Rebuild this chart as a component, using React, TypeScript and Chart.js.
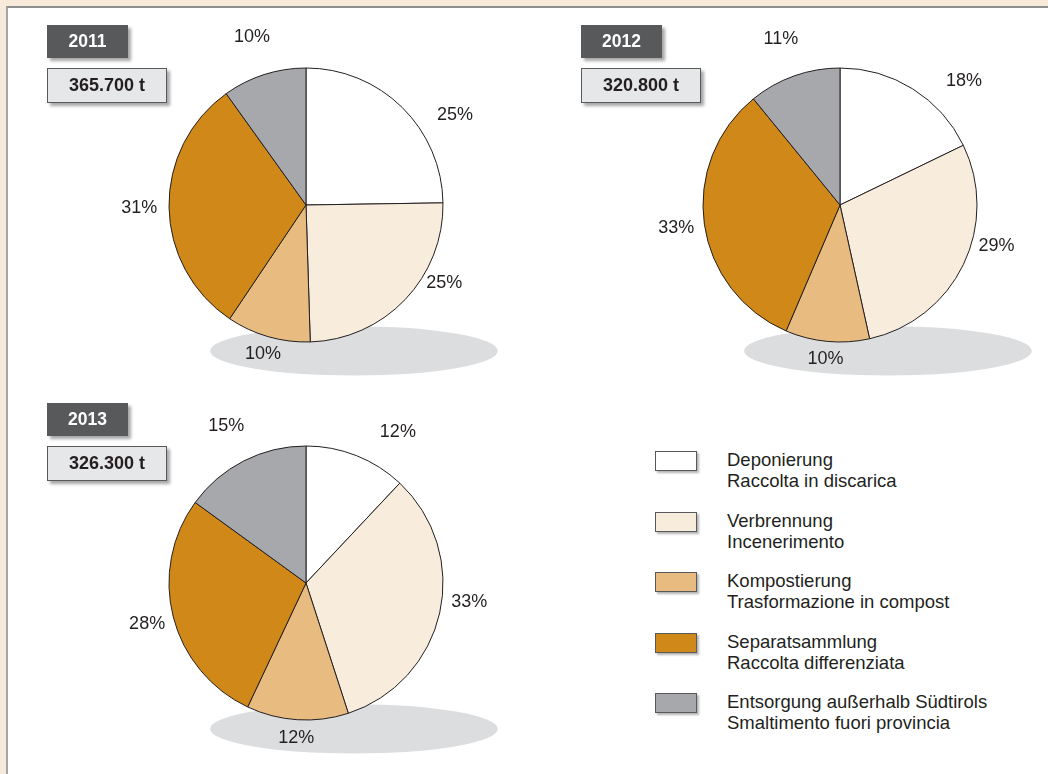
import React, { useEffect, useRef } from "react";
import { Chart, registerables } from "chart.js";

Chart.register(...registerables);

const categoriesDe = [
  "Deponierung",
  "Verbrennung",
  "Kompostierung",
  "Separatsammlung",
  "Entsorgung außerhalb Südtirols",
];
const categoriesIt = [
  "Raccolta in discarica",
  "Incenerimento",
  "Trasformazione in compost",
  "Raccolta differenziata",
  "Smaltimento fuori provincia",
];
const sliceColors = ["#ffffff", "#f8ecdc", "#e8bb80", "#d08818", "#a7a8ab"];

const years = ["2011", "2012", "2013"];
const tonnage = ["365.700 t", "320.800 t", "326.300 t"];
const values2011 = [25, 25, 10, 31, 10];
const values2012 = [18, 29, 10, 33, 11];
const values2013 = [12, 33, 12, 28, 15];
const seriesByYear = [values2011, values2012, values2013];

const FONT = '"Liberation Sans", Arial, Helvetica, sans-serif';
const TEXT = "#231f20";

const shadowPlugin = {
  id: "groundShadow",
  beforeDatasetsDraw(chart: any) {
    const meta = chart.getDatasetMeta(0);
    const arc = meta.data[0];
    if (!arc) return;
    const { x, y, outerRadius } = arc.getProps(["x", "y", "outerRadius"], true);
    const ctx = chart.ctx;
    ctx.save();
    ctx.fillStyle = "#dcdddf";
    ctx.beginPath();
    ctx.ellipse(x + outerRadius * 0.35, y + outerRadius * 1.065, outerRadius * 1.05, outerRadius * 0.18, 0, 0, Math.PI * 2);
    ctx.fill();
    ctx.restore();
  },
};

const labelPlugin = {
  id: "pctLabels",
  afterDatasetsDraw(chart: any) {
    const meta = chart.getDatasetMeta(0);
    const data = chart.data.datasets[0].data as number[];
    const ctx = chart.ctx;
    ctx.save();
    ctx.font = `18px ${FONT}`;
    ctx.fillStyle = TEXT;
    ctx.textAlign = "center";
    ctx.textBaseline = "middle";
    meta.data.forEach((arc: any, i: number) => {
      const { x, y, startAngle, endAngle, outerRadius } = arc.getProps(
        ["x", "y", "startAngle", "endAngle", "outerRadius"],
        true
      );
      const mid = (startAngle + endAngle) / 2;
      const s = Math.sin(mid);
      const d = outerRadius + 30 + 10 * Math.max(0, -s) - 12 * Math.max(0, s);
      const a = Math.cos(mid) > 0 ? mid - 0.25 * Math.sin(2 * mid) : mid;
      ctx.fillText(`${data[i]}%`, x + Math.cos(a) * d, y + Math.sin(a) * d);
    });
    ctx.restore();
  },
};

function PieChart({ values, left, top }: { values: number[]; left: number; top: number }) {
  const ref = useRef<HTMLCanvasElement | null>(null);
  useEffect(() => {
    if (!ref.current) return;
    const chart = new Chart(ref.current, {
      type: "pie",
      data: {
        labels: categoriesDe,
        datasets: [
          {
            data: values,
            backgroundColor: sliceColors,
            borderColor: "#231f20",
            borderWidth: 1,
            radius: 137,
          } as any,
        ],
      },
      options: {
        responsive: false,
        animation: false,
        devicePixelRatio: 1,
        layout: { padding: 0 },
        plugins: { legend: { display: false }, tooltip: { enabled: false } },
      },
      plugins: [shadowPlugin, labelPlugin],
    });
    return () => chart.destroy();
  }, [values]);
  return (
    <canvas
      ref={ref}
      width={400}
      height={400}
      style={{ position: "absolute", left, top, width: 400, height: 400, zIndex: 1 }}
    />
  );
}

function YearBoxes({ year, tons, left, top }: { year: string; tons: string; left: number; top: number }) {
  return (
    <>
      <div
        style={{
          position: "absolute",
          left,
          top,
          width: 81,
          height: 33,
          background: "#58595b",
          color: "#ffffff",
          font: `bold 17.5px ${FONT}`,
          display: "flex",
          alignItems: "center",
          justifyContent: "center",
          boxShadow: "3px 3px 3px rgba(0,0,0,0.35)",
          zIndex: 2,
        }}
      >
        {year}
      </div>
      <div
        style={{
          position: "absolute",
          left,
          top: top + 43,
          width: 118,
          height: 33,
          boxSizing: "content-box",
          background: "#e6e7e8",
          border: "1.5px solid #58595b",
          color: TEXT,
          font: `bold 18px ${FONT}`,
          display: "flex",
          alignItems: "center",
          justifyContent: "center",
          boxShadow: "3px 3px 3px rgba(0,0,0,0.35)",
          zIndex: 2,
        }}
      >
        {tons}
      </div>
    </>
  );
}

export default function App() {
  useEffect(() => {
    document.body.style.margin = "0";
  }, []);
  const pieSpots = [
    { left: 106, top: 5 },
    { left: 640, top: 5 },
    { left: 106, top: 383 },
  ];
  const boxSpots = [
    { left: 47, top: 25 },
    { left: 581, top: 25 },
    { left: 47, top: 403 },
  ];
  return (
    <div
      style={{
        position: "relative",
        width: 1048,
        height: 774,
        overflow: "hidden",
        background: "#f7eadb",
      }}
    >
      <div
        style={{
          position: "absolute",
          left: 6,
          top: 6,
          right: 0,
          bottom: 0,
          background: "#ffffff",
          borderTop: "2px solid #8f8f8f",
          borderLeft: "2px solid #a5a5a5",
        }}
      />
      {seriesByYear.map((vals, i) => (
        <PieChart key={years[i]} values={vals} left={pieSpots[i].left} top={pieSpots[i].top} />
      ))}
      {years.map((y, i) => (
        <YearBoxes key={y} year={y} tons={tonnage[i]} left={boxSpots[i].left} top={boxSpots[i].top} />
      ))}
      {categoriesDe.map((de, i) => (
        <div key={de} style={{ position: "absolute", left: 655, top: 451 + i * 60.5, zIndex: 2 }}>
          <div
            style={{
              position: "absolute",
              left: 0,
              top: 0,
              width: 40,
              height: 18,
              background: sliceColors[i],
              border: "1.5px solid #58595b",
              boxShadow: "2px 2px 2px rgba(0,0,0,0.3)",
            }}
          />
          <div
            style={{
              position: "absolute",
              left: 72,
              top: -2,
              whiteSpace: "nowrap",
              font: `18.5px ${FONT}`,
              lineHeight: "21px",
              color: TEXT,
            }}
          >
            <div>{de}</div>
            <div>{categoriesIt[i]}</div>
          </div>
        </div>
      ))}
    </div>
  );
}
